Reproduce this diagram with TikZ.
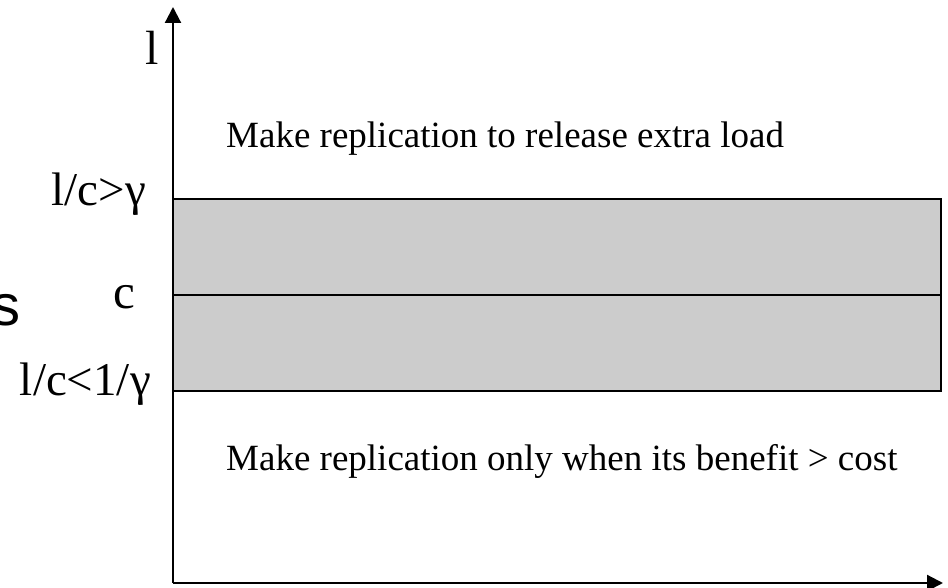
\documentclass[tikz,border=0pt]{standalone}
\usepackage{fontspec}
\setmainfont{Liberation Serif}
\setsansfont{Liberation Sans}
\usetikzlibrary{arrows.meta}
\definecolor{bandgray}{HTML}{CCCCCC}
\tikzset{
  axis/.style={line width=2.2pt, -{Triangle[length=16pt,width=16pt]}},
  band/.style={draw=black, line width=2.2pt, fill=bandgray},
  note/.style={inner sep=0pt, anchor=base west, font=\fontsize{37}{44}\selectfont},
  ticklabel/.style={inner sep=0pt, anchor=base east, font=\fontsize{47}{55}\selectfont},
}
\begin{document}
\begin{tikzpicture}[x=1pt, y=-1pt]
  \useasboundingbox (0,0) rectangle (948,588);
  % shaded bands between the two thresholds
  \draw[band] (173,199) rectangle (941,295);
  \draw[band] (173,295) rectangle (941,391);
  % axes
  \coordinate (origin) at (173,583);
  \coordinate (ytip) at (173,7);
  \coordinate (xtip) at (943,583);
  \draw[axis] (origin) -- (ytip);
  \draw[axis] (origin) -- (xtip);
  % axis and threshold labels
  \node[ticklabel, font=\fontsize{48}{56}\selectfont] (lab) at (159,65) {l};
  \node[ticklabel] (upper) at (146,206) {l/c>γ};
  \node[ticklabel, font=\fontsize{49}{57}\selectfont] (cap) at (135,308) {c};
  \node[ticklabel] (lower) at (151,395) {l/c<1/γ};
  \node[inner sep=0pt, anchor=base east, font=\sffamily\fontsize{58}{66}\selectfont] (side) at (21,325) {s};
  % region notes
  \node[note] (above) at (226,148) {Make replication to release extra load};
  \node[note] (below) at (226,470) {Make replication only when its benefit > cost};
\end{tikzpicture}
\end{document}
